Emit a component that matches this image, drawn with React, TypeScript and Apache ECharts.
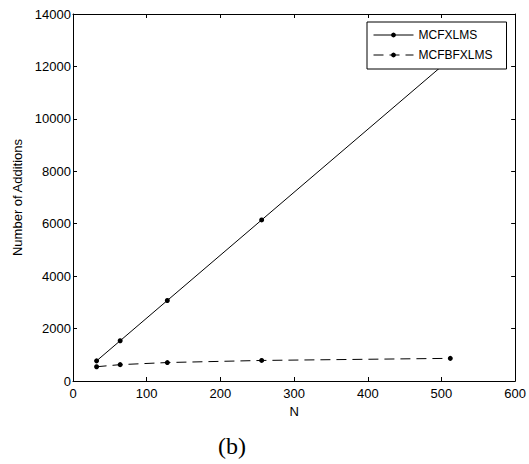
import React, { useEffect, useRef } from "react";
import * as echarts from "echarts";

const nValues = [32, 64, 128, 256, 512];
const mcfxlms = [768, 1536, 3072, 6144, 12288];
const mcfbfxlms = [544, 624, 704, 784, 864];
const seriesNames = ["MCFXLMS", "MCFBFXLMS"];
const xAxisName = "N";
const yAxisName = "Number of Additions";
const caption = "(b)";

const FONT = "Liberation Sans, Arial, Helvetica, sans-serif";

export default function App() {
  const ref = useRef<HTMLDivElement>(null);
  useEffect(() => {
    document.body.style.margin = "0";
    if (!ref.current) return;
    const chart = echarts.init(ref.current, undefined, { renderer: "svg" });
    const axisLine = { show: true, onZero: false, lineStyle: { color: "#000", width: 1 } };
    const tick = { show: true, inside: true, length: 4, lineStyle: { color: "#000", width: 1 } };
    const plain = (v: number) => String(v);
    chart.setOption({
      animation: false,
      backgroundColor: "#fff",
      grid: { left: 73, right: 11, top: 14, bottom: 83, containLabel: false },
      legend: {
        orient: "vertical",
        left: 367,
        top: 22,
        itemWidth: 40,
        itemHeight: 6,
        itemGap: 8,
        padding: [7, 14, 8, 6],
        backgroundColor: "#fff",
        borderColor: "#000",
        borderWidth: 1,
        lineStyle: { width: 1 },
        textStyle: { fontFamily: FONT, fontSize: 12, color: "#000" },
        data: seriesNames,
      },
      xAxis: [
        {
          type: "value",
          min: 0,
          max: 600,
          interval: 100,
          name: xAxisName,
          nameLocation: "middle",
          nameGap: 23,
          nameTextStyle: { fontFamily: FONT, fontSize: 13, color: "#000" },
          axisLine,
          axisTick: tick,
          axisLabel: { fontFamily: FONT, fontSize: 13, color: "#000", margin: 6, formatter: plain },
          splitLine: { show: false },
        },
        {
          type: "value",
          position: "top",
          min: 0,
          max: 600,
          interval: 100,
          axisLine,
          axisTick: tick,
          axisLabel: { show: false },
          splitLine: { show: false },
        },
      ],
      yAxis: [
        {
          type: "value",
          min: 0,
          max: 14000,
          interval: 2000,
          name: yAxisName,
          nameLocation: "middle",
          nameGap: 46,
          nameTextStyle: { fontFamily: FONT, fontSize: 13, color: "#000" },
          axisLine,
          axisTick: tick,
          axisLabel: { fontFamily: FONT, fontSize: 13, color: "#000", margin: 2, formatter: plain },
          splitLine: { show: false },
        },
        {
          type: "value",
          position: "right",
          min: 0,
          max: 14000,
          interval: 2000,
          axisLine,
          axisTick: tick,
          axisLabel: { show: false },
          splitLine: { show: false },
        },
      ],
      series: [
        {
          name: seriesNames[0],
          type: "line",
          data: nValues.map((n, i) => [n, mcfxlms[i]]),
          symbol: "circle",
          symbolSize: 5,
          itemStyle: { color: "#000" },
          lineStyle: { color: "#000", width: 1, type: "solid" },
          z: 2,
        },
        {
          name: seriesNames[1],
          type: "line",
          data: nValues.map((n, i) => [n, mcfbfxlms[i]]),
          symbol: "circle",
          symbolSize: 5,
          itemStyle: { color: "#000" },
          lineStyle: { color: "#000", width: 1, type: [10, 6] },
          z: 2,
        },
      ],
      graphic: [
        {
          type: "text",
          left: 218,
          top: 434,
          style: {
            text: caption,
            fontFamily: "Liberation Serif, Times New Roman, serif",
            fontSize: 24,
            fill: "#000",
          },
        },
      ],
    });
    return () => chart.dispose();
  }, []);
  return <div ref={ref} style={{ width: 529, height: 464 }} />;
}
